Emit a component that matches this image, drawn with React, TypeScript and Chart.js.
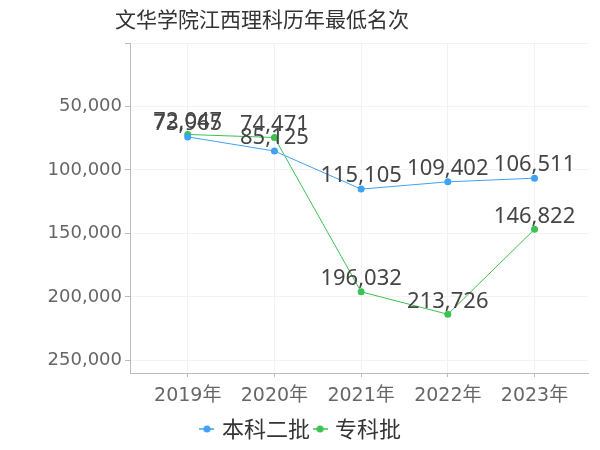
import React, { useEffect, useRef } from "react";
import { Chart, registerables } from "chart.js";

Chart.register(...registerables);

const categories = ["2019年", "2020年", "2021年", "2022年", "2023年"];
const seriesNames = ["本科二批", "专科批"];
const benke2Values = [73965, 85125, 115105, 109402, 106511];
const zhuankeValues = [72047, 74471, 196032, 213726, 146822];
const yTickValues = [0, 50000, 100000, 150000, 200000, 250000];
const titleText = "文华学院江西理科历年最低名次";

const BLUE = "#3fa2f7";
const GREEN = "#3cc153";

function makeMarker(color: string) {
  const c = document.createElement("canvas");
  c.width = 15;
  c.height = 10;
  const g = c.getContext("2d")!;
  g.strokeStyle = color;
  g.lineWidth = 1.5;
  g.beginPath();
  g.moveTo(0, 5);
  g.lineTo(15, 5);
  g.stroke();
  g.fillStyle = color;
  g.beginPath();
  g.arc(7.5, 5, 3.5, 0, Math.PI * 2);
  g.fill();
  return c;
}

const fmt = (v: number) => v.toLocaleString("en-US");

export default function App() {
  const ref = useRef<HTMLCanvasElement | null>(null);
  useEffect(() => {
    if (!ref.current) return;
    const markers = [makeMarker(BLUE), makeMarker(GREEN)];
    const titlePlugin = {
      id: "customTitle",
      afterDraw(chart: any) {
        const ctx = chart.ctx;
        ctx.save();
        ctx.font = '21px "Noto Sans CJK SC"';
        ctx.fillStyle = "#333";
        ctx.textAlign = "left";
        ctx.textBaseline = "middle";
        ctx.fillText(titleText, 115, 19);
        ctx.restore();
      },
    };
    const labelPlugin = {
      id: "pointLabels",
      afterDatasetsDraw(chart: any) {
        const ctx = chart.ctx;
        ctx.save();
        ctx.font = '22px "Noto Sans", "DejaVu Sans"';
        ctx.fillStyle = "#444";
        ctx.textAlign = "center";
        ctx.textBaseline = "middle";
        chart.data.datasets.forEach((ds: any, di: number) => {
          const meta = chart.getDatasetMeta(di);
          meta.data.forEach((pt: any, i: number) => {
            ctx.fillText(fmt(ds.data[i].y), pt.x, pt.y - 13);
          });
        });
        ctx.restore();
      },
    };
    const chart = new Chart(ref.current, {
      type: "line",
      data: {
        datasets: [
          {
            label: seriesNames[0],
            data: benke2Values.map((v, i) => ({ x: i, y: v })),
            borderColor: BLUE,
            backgroundColor: BLUE,
            borderWidth: 1,
            pointRadius: 3.5,
            pointBorderWidth: 0,
            pointBackgroundColor: BLUE,
          },
          {
            label: seriesNames[1],
            data: zhuankeValues.map((v, i) => ({ x: i, y: v })),
            borderColor: GREEN,
            backgroundColor: GREEN,
            borderWidth: 1,
            pointRadius: 3.5,
            pointBorderWidth: 0,
            pointBackgroundColor: GREEN,
          },
        ],
      },
      options: {
        animation: false,
        responsive: false,
        maintainAspectRatio: false,
        layout: { padding: { left: 16, right: 12, top: 43, bottom: 0 } },
        plugins: {
          title: { display: false },
          tooltip: { enabled: false },
          legend: {
            position: "bottom",
            labels: {
              font: { family: '"Noto Sans CJK SC"', size: 22 },
              color: "#333",
              usePointStyle: true,
              pointStyleWidth: 8,
              boxHeight: 10,
              padding: 6,
              generateLabels: (ch: any) =>
                ch.data.datasets.map((ds: any, i: number) => ({
                  text: ds.label,
                  pointStyle: markers[i],
                  fillStyle: ds.borderColor,
                  strokeStyle: ds.borderColor,
                  lineWidth: 0,
                  fontColor: "#333",
                  datasetIndex: i,
                  hidden: false,
                })),
            },
          },
        },
        scales: {
          x: {
            type: "linear",
            min: -0.666,
            max: 4.617,
            afterBuildTicks: (scale: any) => {
              scale.ticks = categories.map((_, i) => ({ value: i }));
            },
            afterFit: (scale: any) => {
              scale.height = 39;
            },
            ticks: {
              callback: (v: any) => categories[v] ?? "",
              font: { family: '"DejaVu Sans", "Noto Sans CJK SC"', size: 19 },
              color: "#666",
              padding: 8,
              maxRotation: 0,
              autoSkip: false,
            },
            grid: {
              color: "#f2f2f2",
              tickColor: "#bbb",
              tickLength: 4,
            },
            border: { color: "#bbb" },
          },
          y: {
            reverse: true,
            min: 0,
            max: 260000,
            afterBuildTicks: (scale: any) => {
              scale.ticks = yTickValues.map((v) => ({ value: v }));
            },
            afterFit: (scale: any) => {
              scale.width = 114;
            },
            ticks: {
              callback: (v: any) => (v === 0 ? "" : fmt(v)),
              font: { family: '"DejaVu Sans"', size: 18 },
              color: "#666",
              padding: 3,
            },
            grid: {
              color: "#f2f2f2",
              tickColor: "#bbb",
              tickLength: 5,
            },
            border: { color: "#bbb" },
          },
        },
      },
      plugins: [titlePlugin, labelPlugin],
    } as any);
    return () => chart.destroy();
  }, []);
  return (
    <div style={{ position: "absolute", left: 0, top: 0, width: 600, height: 450 }}>
      <canvas ref={ref} width={600} height={450} style={{ width: 600, height: 450 }} />
    </div>
  );
}
